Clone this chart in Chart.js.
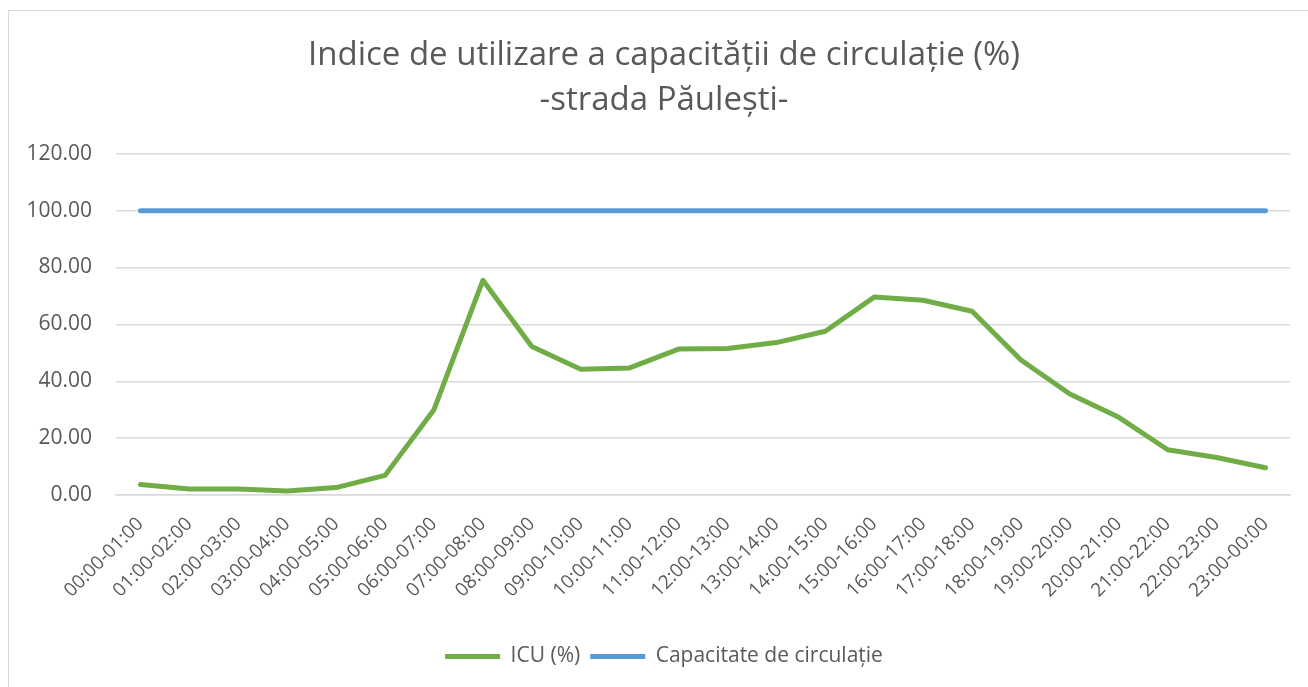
<!DOCTYPE html>
<html>
<head>
<meta charset="utf-8">
<script src="https://cdn.jsdelivr.net/npm/chart.js@4.4.1/dist/chart.umd.min.js"></script>
<style>
  html, body { margin: 0; padding: 0; background: #ffffff; overflow: hidden; width: 1308px; height: 687px; }
  #frame {
    position: absolute; left: 8px; top: 10px; width: 1400px; height: 800px;
    border: 1px solid #d9d9d9; box-sizing: border-box;
  }
  #wrap { position: absolute; left: 0; top: 0; width: 1318px; height: 687px; }
</style>
</head>
<body>
<div id="frame"></div>
<div id="wrap"><canvas id="c" width="1318" height="687"></canvas></div>
<script>
// Hourly intervals along the x axis
const intervals = [
  '00:00-01:00', '01:00-02:00', '02:00-03:00', '03:00-04:00', '04:00-05:00', '05:00-06:00',
  '06:00-07:00', '07:00-08:00', '08:00-09:00', '09:00-10:00', '10:00-11:00', '11:00-12:00',
  '12:00-13:00', '13:00-14:00', '14:00-15:00', '15:00-16:00', '16:00-17:00', '17:00-18:00',
  '18:00-19:00', '19:00-20:00', '20:00-21:00', '21:00-22:00', '22:00-23:00', '23:00-00:00'
];

// Capacity utilisation index per hour (%)
const icuValues = [
  3.7, 2.1, 2.1, 1.4, 2.6, 6.9, 30.0, 75.5, 52.2, 44.2, 44.7, 51.3,
  51.5, 53.6, 57.6, 69.6, 68.5, 64.6, 47.5, 35.5, 27.3, 15.9, 13.2, 9.6
];

// Traffic capacity reference level (%)
const capacityValues = [
  100, 100, 100, 100, 100, 100, 100, 100, 100, 100, 100, 100,
  100, 100, 100, 100, 100, 100, 100, 100, 100, 100, 100, 100
];

const yTicks = [0, 20, 40, 60, 80, 100, 120];

const titleLines = ['Indice de utilizare a capacității de circulație (%)', '-strada Păulești-'];
const seriesNames = ['ICU (%)', 'Capacitate de circulație'];

const FONT = '"Open Sans", "Liberation Sans", sans-serif';
const TEXT = '#595959';
const GRID = '#d9d9d9';

new Chart(document.getElementById('c'), {
  type: 'line',
  data: {
    labels: intervals,
    datasets: [
      {
        label: seriesNames[0],
        data: icuValues,
        borderColor: '#70ad47',
        backgroundColor: '#70ad47',
        borderWidth: 5,
        pointRadius: 0,
        tension: 0,
        borderCapStyle: 'round',
        borderJoinStyle: 'round'
      },
      {
        label: seriesNames[1],
        data: capacityValues,
        borderColor: '#5b9bd5',
        backgroundColor: '#5b9bd5',
        borderWidth: 5,
        pointRadius: 0,
        tension: 0,
        borderCapStyle: 'round',
        borderJoinStyle: 'round'
      }
    ]
  },
  options: {
    responsive: false,
    animation: false,
    devicePixelRatio: 1,
    layout: { padding: { left: 10, right: 0, top: 0, bottom: 10 } },
    plugins: {
      title: {
        display: true,
        text: titleLines,
        color: TEXT,
        font: { family: FONT, size: 33, weight: 'normal', lineHeight: 1.36 },
        padding: { top: 33, bottom: 31 }
      },
      legend: {
        position: 'bottom',
        labels: {
          color: TEXT,
          font: { family: FONT, size: 21 },
          usePointStyle: true,
          pointStyle: 'line',
          pointStyleWidth: 55,
          padding: 10
        }
      },
      tooltip: { enabled: false }
    },
    scales: {
      x: {
        offset: true,
        grid: { display: false, drawTicks: false },
        border: { display: true, color: GRID, width: 1.5 },
        afterFit: (axis) => { axis.height = 141; },
        ticks: {
          color: TEXT,
          font: { family: FONT, size: 19 },
          minRotation: 45,
          maxRotation: 45,
          autoSkip: false,
          padding: 18
        }
      },
      y: {
        min: 0,
        max: 120,
        afterBuildTicks: (axis) => { axis.ticks = yTicks.map(v => ({ value: v })); },
        afterFit: (axis) => { axis.width = 106; },
        grid: { color: GRID, lineWidth: 1.5, drawTicks: false },
        border: { display: false },
        ticks: {
          color: TEXT,
          font: { family: FONT, size: 21 },
          padding: 24,
          callback: (v) => Number(v).toFixed(2)
        }
      },
      // empty right-hand margin axis (keeps the plot's right edge inside the frame)
      yRight: {
        position: 'right',
        min: 0,
        max: 120,
        afterFit: (axis) => { axis.width = 28; },
        grid: { display: false, drawTicks: false },
        border: { display: false },
        ticks: { display: false }
      }
    }
  }
});
</script>
</body>
</html>
